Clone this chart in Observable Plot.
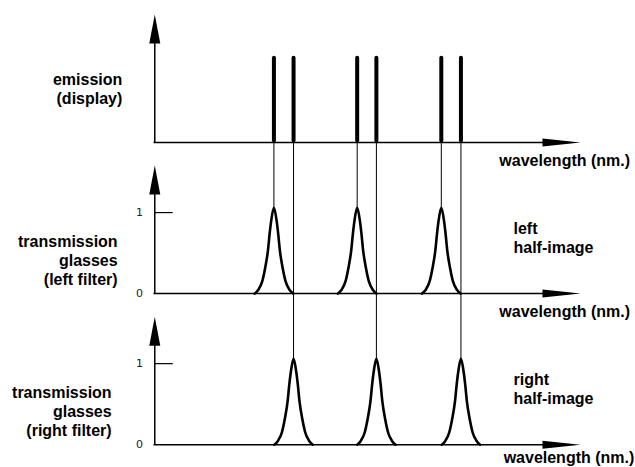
<!DOCTYPE html>
<html><head><meta charset="utf-8">
<script src="https://cdn.jsdelivr.net/npm/d3@7"></script>
<script src="https://cdn.jsdelivr.net/npm/@observablehq/plot@0.6"></script>
<style>body{margin:0;background:#fff}</style>
</head><body><div id="chart"></div>
<script>
// Schematic data (x in relative wavelength units 0..100, y in transmission units)
const leftLines = [28.2, 47.7, 67.4];    // left-eye primaries (emission + left filter peaks)
const rightLines = [32.8, 52.2, 72.0];   // right-eye primaries (emission + right filter peaks)
const spikeHeight = 1.04;                // emission line height
// filter peak shape (offset from centre, transmission)
const profileDx = [-4.5, -3.75, -2.74, -2.04, -1.4, -1.0, -0.63, 0, 0.63, 1.0, 1.4, 2.04, 2.74, 3.75, 4.5];
const profileH  = [0, 0.04, 0.15, 0.32, 0.53, 0.74, 0.9, 1.06, 0.9, 0.74, 0.53, 0.32, 0.15, 0.04, 0];
const panelNames = ["emission\n(display)", "transmission\nglasses\n(left filter)", "transmission\nglasses\n(right filter)"];
const sideNames = ["left\nhalf-image", "right\nhalf-image"];
const axisTitle = "wavelength (nm.)";
const tickLabels = ["0", "1"];
const tickValues = [0, 1];

const panelGap = 1.865;
const off = p => -p * panelGap;
const peakTop = d3.max(profileH);

const peaks = [];
[[1, leftLines], [2, rightLines]].forEach(([p, xs]) => {
  xs.forEach((cx, i) => {
    profileDx.forEach((dx, j) => peaks.push({id: p + "-" + i, x: cx + dx, y: off(p) + profileH[j]}));
  });
});

const upArrow = {draw(ctx) { ctx.moveTo(0, 0); ctx.lineTo(5.5, 29); ctx.lineTo(-5.5, 29); ctx.closePath(); }};
const rightArrow = {draw(ctx) { ctx.moveTo(0, 0); ctx.lineTo(-38, 4); ctx.lineTo(-38, -4); ctx.closePath(); }};

const panels = [0, 1, 2];
const axisX = 0.3, axisTop = 1.58;
const font = "Liberation Sans, Arial, sans-serif";

const chart = Plot.plot({
  width: 635, height: 467,
  marginLeft: 153, marginRight: 55, marginTop: 0, marginBottom: 0,
  style: {background: "white", fontFamily: font},
  x: {axis: null, domain: [0, 100]},
  y: {axis: null, domain: [-4.012, 1.753]},
  marks: [
    // horizontal wavelength axes
    Plot.link(panels, {x1: 0, x2: 96, y1: p => off(p), y2: p => off(p), stroke: "black", strokeWidth: 1.5}),
    Plot.dot(panels, {x: 100, y: p => off(p), symbol: rightArrow, fill: "black", stroke: null}),
    // vertical axes
    Plot.link(panels, {x1: axisX, x2: axisX, y1: p => off(p), y2: p => off(p) + axisTop - 0.2, stroke: "black", strokeWidth: 1.5}),
    Plot.dot(panels, {x: axisX, y: p => off(p) + axisTop, symbol: upArrow, fill: "black", stroke: null}),
    // tick "1" marks on filter panels
    Plot.link([1, 2], {x1: axisX, x2: 4.5, y1: p => off(p) + 1, y2: p => off(p) + 1, stroke: "black", strokeWidth: 1.2}),
    Plot.text([1, 2].flatMap(p => tickValues.map((v, i) => ({p, v, t: tickLabels[i]}))),
      {x: -3.3, y: d => off(d.p) + d.v, text: "t", fontSize: 11, fill: "#222", fontFamily: "DejaVu Sans"}),
    // connector lines from emission to filter peaks
    Plot.ruleX(leftLines, {y1: 0, y2: off(1) + peakTop, stroke: "black", strokeWidth: 1}),
    Plot.ruleX(rightLines, {y1: 0, y2: off(2) + peakTop, stroke: "black", strokeWidth: 1}),
    // emission spikes
    Plot.ruleX([...leftLines, ...rightLines], {y1: 0.02, y2: spikeHeight, stroke: "black", strokeWidth: 4, strokeLinecap: "round"}),
    // filter transmission peaks
    Plot.line(peaks, {x: "x", y: "y", z: "id", curve: "monotone-x", stroke: "black", strokeWidth: 2.6}),
    // labels
    Plot.text([panelNames[0]], {x: -7.3, y: off(0) + 0.67, text: d => d, textAnchor: "end", lineAnchor: "middle", fontSize: 16, fontWeight: "bold", lineHeight: 1.2, fill: "black"}),
    Plot.text([panelNames[1]], {x: -8.4, y: off(1) + 0.42, text: d => d, textAnchor: "end", lineAnchor: "middle", fontSize: 16, fontWeight: "bold", lineHeight: 1.2, fill: "black"}),
    Plot.text([panelNames[2]], {x: -9.8, y: off(2) + 0.42, text: d => d, textAnchor: "end", lineAnchor: "middle", fontSize: 16, fontWeight: "bold", lineHeight: 1.2, fill: "black"}),
    Plot.text(sideNames, {x: 84.3, y: (d, i) => off(i + 1) + 0.69, text: d => d, textAnchor: "start", lineAnchor: "middle", fontSize: 16, fontWeight: "bold", lineHeight: 1.2, fill: "black"}),
    Plot.text(panels, {x: p => p === 2 ? 82 : 81, y: p => off(p) + (p === 2 ? -0.16 : -0.23), text: () => axisTitle, textAnchor: "start", lineAnchor: "middle", fontSize: 16, fontWeight: "bold", fill: "black", style: "letter-spacing:0.3px"})
  ]
});
document.getElementById("chart").appendChild(chart);
</script>
</body></html>
